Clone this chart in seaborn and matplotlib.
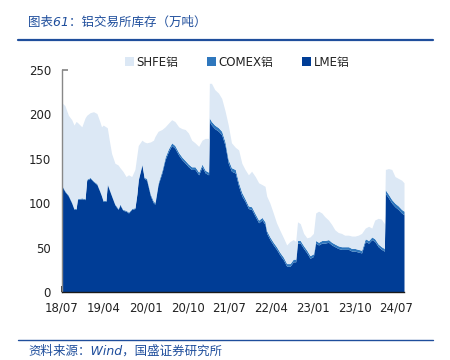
import matplotlib
matplotlib.use("Agg")
import matplotlib.pyplot as plt
import matplotlib.dates as mdates
import seaborn as sns
import pandas as pd

dates = ["2018-07-01","2018-07-20","2018-08-12","2018-09-03","2018-09-18","2018-10-01","2018-10-10",
         "2018-11-08","2018-11-29","2018-12-10","2019-01-02","2019-01-24","2019-02-15","2019-03-06",
         "2019-03-17","2019-03-28","2019-04-15","2019-04-24","2019-05-07","2019-05-22","2019-06-13",
         "2019-07-04","2019-07-16","2019-08-04","2019-08-25","2019-09-10","2019-10-01","2019-10-22",
         "2019-11-04","2019-11-13","2019-12-07","2019-12-22","2020-01-07","2020-02-01","2020-02-21",
         "2020-03-01","2020-03-22","2020-04-16","2020-05-07","2020-05-28","2020-06-19","2020-07-10",
         "2020-08-04","2020-08-25","2020-09-16","2020-10-07","2020-10-28","2020-11-19","2020-12-13",
         "2021-01-04","2021-01-25","2021-02-16","2021-02-21","2021-03-07","2021-03-28","2021-04-22",
         "2021-05-13","2021-06-04","2021-06-25","2021-07-16","2021-08-10","2021-09-01","2021-09-22",
         "2021-10-13","2021-11-04","2021-11-25","2021-12-19","2022-01-10","2022-02-01","2022-02-21",
         "2022-03-04","2022-03-25","2022-04-16","2022-05-07","2022-05-28","2022-06-22","2022-07-13",
         "2022-08-04","2022-08-25","2022-09-10","2022-09-22","2022-10-10","2022-11-01","2022-11-22",
         "2022-12-13","2023-01-04","2023-01-19","2023-02-07","2023-02-28","2023-03-19","2023-04-13",
         "2023-05-04","2023-05-25","2023-06-16","2023-07-07","2023-07-28","2023-08-22","2023-09-13",
         "2023-10-04","2023-10-25","2023-11-16","2023-12-10","2024-01-01","2024-01-22","2024-02-10",
         "2024-03-04","2024-03-25","2024-04-13","2024-04-20","2024-05-10","2024-06-01","2024-06-22",
         "2024-07-13","2024-08-04","2024-08-20"]

lme = [119,113,108,100,93,93,104,105,104,126,128,124,121,113,108,102,102,121,115,108,98,
       93,98,92,91,89,93,94,110,126,143,128,126,108,100,99,121,134,149,158,165,162,
       154,149,145,141,138,138,132,141,134,132,192,188,184,181,177,165,145,136,134,119,108,
       102,94,93,85,78,81,76,66,59,53,48,42,36,29,29,34,34,55,55,49,44,
       38,40,55,53,55,55,56,53,51,49,48,48,48,46,46,45,44,57,55,59,57,
       51,48,46,111,106,100,96,93,89,87]

comex = [1,1,1,1,1,1,1,1,1,1,1,1,1,1,1,1,1,1,1,1,1,
         1,1,1,1,1,1,1,1,1,1,1,2,2,2,2,2,3,3,3,3,3,
         3,3,3,3,3,3,3,3,3,3,4,4,4,4,4,4,4,4,4,4,4,
         3,3,3,3,3,3,3,3,3,3,3,3,3,3,3,3,3,3,3,3,3,
         3,3,3,3,3,3,3,3,3,3,3,3,3,3,3,3,3,3,3,3,3,
         3,3,3,4,4,4,4,4,4,4]

shfe = [93,96,90,93,94,98,86,80,91,72,73,78,79,78,77,85,83,63,55,47,46,
        49,41,43,38,42,36,43,43,38,27,40,40,59,69,74,58,46,34,29,26,27,
        29,32,35,35,30,27,29,27,36,38,39,43,40,39,37,35,39,28,25,37,33,
        33,35,40,42,42,37,40,39,38,33,27,25,22,21,25,22,20,21,19,14,14,
        21,23,31,35,31,27,22,20,16,15,15,13,13,14,14,16,19,12,16,10,21,
        29,31,28,23,29,34,30,31,33,32]

series_names = ["LME铝", "COMEX铝", "SHFE铝"]
tick_dates = ["2018-07-01","2019-04-01","2020-01-01","2020-10-01","2021-07-01",
              "2022-04-01","2023-01-01","2023-10-01","2024-07-01"]

sns.set_theme(style="white")
plt.rcParams["font.family"] = ["DejaVu Sans", "Noto Sans CJK SC"]

df = pd.DataFrame({"date": pd.to_datetime(dates), "LME铝": lme, "COMEX铝": comex, "SHFE铝": shfe})
colors = {"LME铝": "#003d96", "COMEX铝": "#2f77bd", "SHFE铝": "#dce8f5"}

fig = plt.figure(figsize=(4.5, 3.6), dpi=100)
ax = fig.add_axes([62/450, 1-292/360, (404-62)/450, 222/360])

ax.stackplot(df["date"], [df[n] for n in series_names],
             colors=[colors[n] for n in series_names], labels=series_names, linewidth=0)

ax.set_xlim(pd.Timestamp("2018-07-01"), pd.Timestamp("2024-08-20"))
ax.set_ylim(0, 250)
ax.set_yticks([0, 50, 100, 150, 200, 250])
ax.set_xticks(pd.to_datetime(tick_dates))
ax.xaxis.set_major_formatter(mdates.DateFormatter("%y/%m"))

ax.tick_params(axis="both", direction="in", labelsize=8.5, labelcolor="#222222")
ax.tick_params(axis="y", length=4, color="#888888", left=True, pad=8)
ax.tick_params(axis="x", length=4, color="#222222", bottom=True, pad=7)

for s in ["top", "right"]:
    ax.spines[s].set_visible(False)
ax.spines["left"].set_color("#888888")
ax.spines["left"].set_linewidth(1.0)
ax.spines["bottom"].set_color("#1a1a1a")
ax.spines["bottom"].set_linewidth(1.0)

handles, labels = ax.get_legend_handles_labels()
order = [2, 1, 0]
leg = ax.legend([handles[i] for i in order], [labels[i] for i in order],
                loc="center", bbox_to_anchor=(0.512, 1.036), ncol=3, frameon=False,
                fontsize=8.5, handlelength=0.8, handleheight=0.8, handletextpad=0.2,
                columnspacing=2.4, borderaxespad=0)
for t in leg.get_texts():
    t.set_color("#222222")

blue = "#1f4e9c"
fig.text(28/450, 1-22/360, "图表61：铝交易所库存（万吨）", color=blue, fontsize=9,
         style="italic", va="center", ha="left")
fig.add_artist(plt.Line2D([18/450, 433/450], [1-40/360, 1-40/360], color=blue, linewidth=1.6))
fig.add_artist(plt.Line2D([18/450, 433/450], [1-340/360, 1-340/360], color=blue, linewidth=1.0))
fig.text(28/450, 1-351/360, "资料来源：Wind，国盛证券研究所", color=blue, fontsize=9,
         style="italic", va="center", ha="left")

fig.savefig("out.png", dpi=100)
